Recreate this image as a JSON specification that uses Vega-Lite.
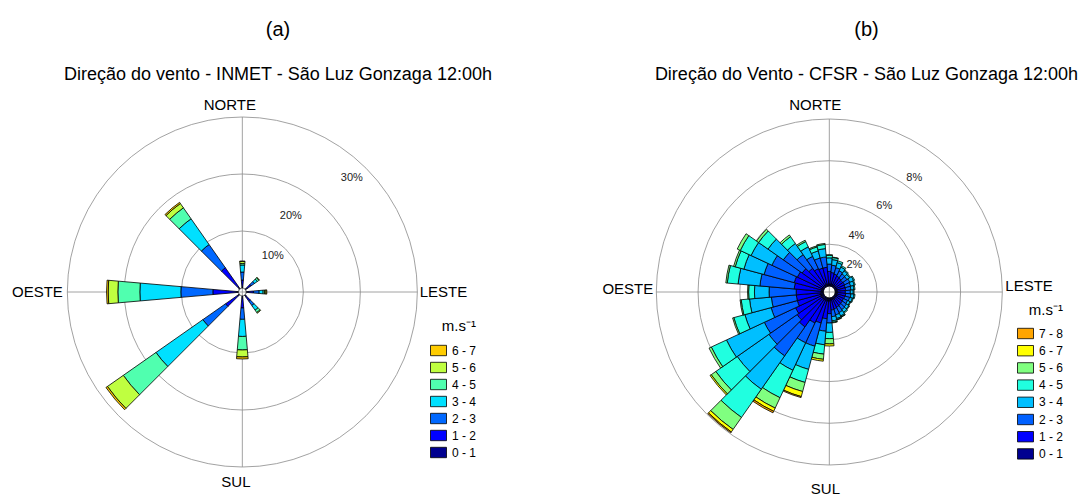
{
  "$schema": "https://vega.github.io/schema/vega-lite/v6.json",
  "padding": {"left": 9, "top": 20, "right": 0, "bottom": 0},
  "spacing": 60,
  "config": {"view": {"stroke": null}, "font": "Liberation Sans", "text": {"font": "Liberation Sans", "color": "black", "fill": "black"}},
  "resolve": {"scale": {"color": "independent", "theta": "independent", "radius": "independent", "x": "independent", "y": "independent"}, "legend": {"color": "independent"}},
  "hconcat": [
    {
      "width": 490,
      "height": 408,
      "title": {"text": "(a)", "subtitle": "Direção do vento - INMET - São Luz Gonzaga 12:00h", "fontSize": 20, "subtitleFontSize": 18, "fontWeight": "normal", "subtitlePadding": 26, "offset": 4, "dx": 24, "anchor": "middle", "color": "black", "subtitleColor": "black", "font": "Liberation Sans", "subtitleFont": "Liberation Sans"},
      "layer": [
        {
          "data": {"values": [{"ring": 10}, {"ring": 20}, {"ring": 30}]},
          "mark": {"type": "arc", "theta": 0, "theta2": 6.2832, "filled": false, "stroke": "#8a8a8a", "strokeWidth": 0.8},
          "encoding": {
            "x": {"datum": 0, "type": "quantitative", "scale": {"domain": [-40, 44], "nice": false, "zero": false}, "axis": null},
            "y": {"datum": 0, "type": "quantitative", "scale": {"domain": [-34.97, 34.97], "nice": false, "zero": false}, "axis": null},
            "radius": {"field": "ring", "type": "quantitative", "stack": null, "scale": {"type": "linear", "domain": [0, 30], "range": [4, 175], "nice": false, "zero": false}}
          }
        },
        {
          "data": {"values": [{}]},
          "mark": {"type": "rule", "color": "#8a8a8a", "strokeWidth": 0.8},
          "encoding": {"x": {"datum": -30, "type": "quantitative"}, "x2": {"datum": 30}, "y": {"datum": 0, "type": "quantitative"}}
        },
        {
          "data": {"values": [{}]},
          "mark": {"type": "rule", "color": "#8a8a8a", "strokeWidth": 0.8},
          "encoding": {"y": {"datum": -30, "type": "quantitative"}, "y2": {"datum": 30}, "x": {"datum": 0, "type": "quantitative"}}
        },
        {
          "data": {"values": [
            {"d": 0, "0 - 1": 0.18, "1 - 2": 1.22, "2 - 3": 1.4, "3 - 4": 1.24, "4 - 5": 0.26, "5 - 6": 0.35, "6 - 7": 0.09},
            {"d": 50, "0 - 1": 0.3, "1 - 2": 0.9, "2 - 3": 0.7, "3 - 4": 0.6, "4 - 5": 0.35, "5 - 6": 0.1, "6 - 7": 0},
            {"d": 90, "0 - 1": 0.25, "1 - 2": 1.0, "2 - 3": 1.0, "3 - 4": 0.7, "4 - 5": 0.25, "5 - 6": 0.25, "6 - 7": 0.15},
            {"d": 140, "0 - 1": 0.3, "1 - 2": 1.0, "2 - 3": 0.9, "3 - 4": 1.0, "4 - 5": 0.5, "5 - 6": 0.15, "6 - 7": 0},
            {"d": 180, "0 - 1": 0.4, "1 - 2": 1.7, "2 - 3": 2.0, "3 - 4": 3.0, "4 - 5": 2.37, "5 - 6": 1.23, "6 - 7": 0.35},
            {"d": 230, "0 - 1": 0.35, "1 - 2": 2.54, "2 - 3": 4.86, "3 - 4": 10.04, "4 - 5": 7.0, "5 - 6": 3.4, "6 - 7": 0.32},
            {"d": 270, "0 - 1": 0.26, "1 - 2": 4.21, "2 - 3": 5.62, "3 - 4": 7.19, "4 - 5": 3.86, "5 - 6": 1.7, "6 - 7": 0.28},
            {"d": 320, "0 - 1": 0.35, "1 - 2": 4.14, "2 - 3": 4.98, "3 - 4": 5.51, "4 - 5": 2.35, "5 - 6": 0.92, "6 - 7": 0.25}
          ]},
          "transform": [
            {"fold": ["0 - 1", "1 - 2", "2 - 3", "3 - 4", "4 - 5", "5 - 6", "6 - 7"], "as": ["c", "f"]},
            {"filter": "datum.f > 0"}
          ],
          "mark": {"type": "arc", "stroke": "black", "strokeWidth": 0.8},
          "encoding": {
            "x": {"datum": 0, "type": "quantitative"},
            "y": {"datum": 0, "type": "quantitative"},
            "theta": {"field": "d", "type": "ordinal", "scale": {"type": "band", "domain": [0,10,20,30,40,50,60,70,80,90,100,110,120,130,140,150,160,170,180,190,200,210,220,230,240,250,260,270,280,290,300,310,320,330,340,350], "range": [-0.0873, 6.1959], "paddingInner": 0, "paddingOuter": 0}},
            "radius": {"field": "f", "type": "quantitative", "stack": "zero", "scale": {"type": "linear", "domain": [0, 30], "range": [4, 175], "nice": false, "zero": false}},
            "order": {"field": "c", "sort": "ascending"},
            "color": {"field": "c", "type": "nominal",
              "scale": {"domain": ["6 - 7", "5 - 6", "4 - 5", "3 - 4", "2 - 3", "1 - 2", "0 - 1"], "range": ["#FFCC00", "#BFFF40", "#50FFAF", "#00E0FF", "#0068FF", "#0000FF", "#00008F"]},
              "legend": {"orient": "none", "legendX": 421, "legendY": 231, "title": "m.s⁻¹", "titleFontSize": 15, "titleFontWeight": "normal", "titleColor": "black", "titleAnchor": "end", "titlePadding": 8, "labelFontSize": 12, "labelColor": "black", "labelOffset": 5, "rowPadding": 1, "padding": 0, "symbolType": "M-1,-0.65H1V0.65H-1Z", "symbolSize": 256, "symbolStrokeColor": "black", "symbolStrokeWidth": 0.8, "symbolOpacity": 1}}
          }
        },
        {"data": {"values": [{}]}, "mark": {"type": "text", "text": "NORTE", "fontSize": 15, "color": "black", "align": "center", "baseline": "middle"}, "encoding": {"x": {"datum": -2.14, "type": "quantitative"}, "y": {"datum": 32.06, "type": "quantitative"}}},
        {"data": {"values": [{}]}, "mark": {"type": "text", "text": "SUL", "fontSize": 15, "color": "black", "align": "center", "baseline": "middle"}, "encoding": {"x": {"datum": -1.1, "type": "quantitative"}, "y": {"datum": -32.6, "type": "quantitative"}}},
        {"data": {"values": [{}]}, "mark": {"type": "text", "text": "OESTE", "fontSize": 15, "color": "black", "align": "right", "baseline": "middle"}, "encoding": {"x": {"datum": -30.77, "type": "quantitative"}, "y": {"datum": 0, "type": "quantitative"}}},
        {"data": {"values": [{}]}, "mark": {"type": "text", "text": "LESTE", "fontSize": 15, "color": "black", "align": "left", "baseline": "middle"}, "encoding": {"x": {"datum": 30.4, "type": "quantitative"}, "y": {"datum": 0, "type": "quantitative"}}},
        {"data": {"values": [{}]}, "mark": {"type": "text", "text": "10%", "fontSize": 11, "color": "#222222", "align": "center", "baseline": "middle"}, "encoding": {"x": {"datum": 5.23, "type": "quantitative"}, "y": {"datum": 6.17, "type": "quantitative"}}},
        {"data": {"values": [{}]}, "mark": {"type": "text", "text": "20%", "fontSize": 11, "color": "#222222", "align": "center", "baseline": "middle"}, "encoding": {"x": {"datum": 8.31, "type": "quantitative"}, "y": {"datum": 13.03, "type": "quantitative"}}},
        {"data": {"values": [{}]}, "mark": {"type": "text", "text": "30%", "fontSize": 11, "color": "#222222", "align": "center", "baseline": "middle"}, "encoding": {"x": {"datum": 18.77, "type": "quantitative"}, "y": {"datum": 19.54, "type": "quantitative"}}}
      ]
    },
    {
      "width": 519,
      "height": 408,
      "title": {"text": "(b)", "subtitle": "Direção do Vento - CFSR - São Luz Gonzaga 12:00h", "fontSize": 20, "subtitleFontSize": 18, "fontWeight": "normal", "subtitlePadding": 26, "offset": 4, "dx": 48, "anchor": "middle", "color": "black", "subtitleColor": "black", "font": "Liberation Sans", "subtitleFont": "Liberation Sans"},
      "layer": [
        {
          "data": {"values": [{"ring": 2}, {"ring": 4}, {"ring": 6}, {"ring": 8}]},
          "mark": {"type": "arc", "theta": 0, "theta2": 6.2832, "filled": false, "stroke": "#8a8a8a", "strokeWidth": 0.8},
          "encoding": {
            "x": {"datum": 0, "type": "quantitative", "scale": {"domain": [-12.5, 11.5], "nice": false, "zero": false}, "axis": null},
            "y": {"datum": 0, "type": "quantitative", "scale": {"domain": [-9.434, 9.434], "nice": false, "zero": false}, "axis": null},
            "radius": {"field": "ring", "type": "quantitative", "stack": null, "scale": {"type": "linear", "domain": [0, 8], "range": [6, 173], "nice": false, "zero": false}}
          }
        },
        {
          "data": {"values": [{}]},
          "mark": {"type": "rule", "color": "#8a8a8a", "strokeWidth": 0.8},
          "encoding": {"x": {"datum": -8, "type": "quantitative"}, "x2": {"datum": 8}, "y": {"datum": 0, "type": "quantitative"}}
        },
        {
          "data": {"values": [{}]},
          "mark": {"type": "rule", "color": "#8a8a8a", "strokeWidth": 0.8},
          "encoding": {"y": {"datum": -8, "type": "quantitative"}, "y2": {"datum": 8}, "x": {"datum": 0, "type": "quantitative"}}
        },
        {
          "data": {"values": [
            {"d": 0, "0 - 1": 0.1, "1 - 2": 0.6, "2 - 3": 0.35, "3 - 4": 0.3, "4 - 5": 0.12, "5 - 6": 0.03, "6 - 7": 0, "7 - 8": 0},
            {"d": 10, "0 - 1": 0.1, "1 - 2": 0.55, "2 - 3": 0.35, "3 - 4": 0.27, "4 - 5": 0.1, "5 - 6": 0.02, "6 - 7": 0, "7 - 8": 0},
            {"d": 20, "0 - 1": 0.1, "1 - 2": 0.5, "2 - 3": 0.32, "3 - 4": 0.25, "4 - 5": 0.09, "5 - 6": 0, "6 - 7": 0, "7 - 8": 0},
            {"d": 30, "0 - 1": 0.1, "1 - 2": 0.45, "2 - 3": 0.28, "3 - 4": 0.2, "4 - 5": 0.07, "5 - 6": 0, "6 - 7": 0, "7 - 8": 0},
            {"d": 40, "0 - 1": 0.1, "1 - 2": 0.42, "2 - 3": 0.25, "3 - 4": 0.18, "4 - 5": 0.05, "5 - 6": 0, "6 - 7": 0, "7 - 8": 0},
            {"d": 50, "0 - 1": 0.1, "1 - 2": 0.4, "2 - 3": 0.25, "3 - 4": 0.15, "4 - 5": 0.05, "5 - 6": 0, "6 - 7": 0, "7 - 8": 0},
            {"d": 60, "0 - 1": 0.1, "1 - 2": 0.42, "2 - 3": 0.28, "3 - 4": 0.2, "4 - 5": 0.05, "5 - 6": 0, "6 - 7": 0, "7 - 8": 0},
            {"d": 70, "0 - 1": 0.1, "1 - 2": 0.4, "2 - 3": 0.27, "3 - 4": 0.18, "4 - 5": 0.05, "5 - 6": 0, "6 - 7": 0, "7 - 8": 0},
            {"d": 80, "0 - 1": 0.1, "1 - 2": 0.4, "2 - 3": 0.25, "3 - 4": 0.15, "4 - 5": 0.05, "5 - 6": 0, "6 - 7": 0, "7 - 8": 0},
            {"d": 90, "0 - 1": 0.1, "1 - 2": 0.38, "2 - 3": 0.24, "3 - 4": 0.14, "4 - 5": 0.04, "5 - 6": 0, "6 - 7": 0, "7 - 8": 0},
            {"d": 100, "0 - 1": 0.1, "1 - 2": 0.4, "2 - 3": 0.25, "3 - 4": 0.15, "4 - 5": 0.05, "5 - 6": 0, "6 - 7": 0, "7 - 8": 0},
            {"d": 110, "0 - 1": 0.1, "1 - 2": 0.38, "2 - 3": 0.24, "3 - 4": 0.14, "4 - 5": 0.04, "5 - 6": 0, "6 - 7": 0, "7 - 8": 0},
            {"d": 120, "0 - 1": 0.1, "1 - 2": 0.36, "2 - 3": 0.22, "3 - 4": 0.13, "4 - 5": 0.04, "5 - 6": 0, "6 - 7": 0, "7 - 8": 0},
            {"d": 130, "0 - 1": 0.1, "1 - 2": 0.38, "2 - 3": 0.24, "3 - 4": 0.14, "4 - 5": 0.04, "5 - 6": 0, "6 - 7": 0, "7 - 8": 0},
            {"d": 140, "0 - 1": 0.1, "1 - 2": 0.4, "2 - 3": 0.25, "3 - 4": 0.15, "4 - 5": 0.05, "5 - 6": 0, "6 - 7": 0, "7 - 8": 0},
            {"d": 150, "0 - 1": 0.1, "1 - 2": 0.42, "2 - 3": 0.28, "3 - 4": 0.18, "4 - 5": 0.05, "5 - 6": 0.02, "6 - 7": 0, "7 - 8": 0},
            {"d": 160, "0 - 1": 0.1, "1 - 2": 0.45, "2 - 3": 0.3, "3 - 4": 0.18, "4 - 5": 0.05, "5 - 6": 0.02, "6 - 7": 0, "7 - 8": 0},
            {"d": 170, "0 - 1": 0.1, "1 - 2": 0.48, "2 - 3": 0.32, "3 - 4": 0.2, "4 - 5": 0.07, "5 - 6": 0.03, "6 - 7": 0, "7 - 8": 0},
            {"d": 180, "0 - 1": 0.15, "1 - 2": 0.6, "2 - 3": 0.45, "3 - 4": 0.45, "4 - 5": 0.3, "5 - 6": 0.25, "6 - 7": 0.1, "7 - 8": 0},
            {"d": 190, "0 - 1": 0.15, "1 - 2": 0.85, "2 - 3": 0.6, "3 - 4": 0.65, "4 - 5": 0.45, "5 - 6": 0.25, "6 - 7": 0.09, "7 - 8": 0},
            {"d": 200, "0 - 1": 0.15, "1 - 2": 1.1, "2 - 3": 1.15, "3 - 4": 1.15, "4 - 5": 0.65, "5 - 6": 0.45, "6 - 7": 0.25, "7 - 8": 0.05},
            {"d": 210, "0 - 1": 0.15, "1 - 2": 1.2, "2 - 3": 1.05, "3 - 4": 1.45, "4 - 5": 1.45, "5 - 6": 0.55, "6 - 7": 0.17, "7 - 8": 0.08},
            {"d": 220, "0 - 1": 0.15, "1 - 2": 1.6, "2 - 3": 1.7, "3 - 4": 1.95, "4 - 5": 1.65, "5 - 6": 0.7, "6 - 7": 0.15, "7 - 8": 0.05},
            {"d": 230, "0 - 1": 0.15, "1 - 2": 1.45, "2 - 3": 1.65, "3 - 4": 1.85, "4 - 5": 1.25, "5 - 6": 0.27, "6 - 7": 0.07, "7 - 8": 0},
            {"d": 240, "0 - 1": 0.15, "1 - 2": 1.35, "2 - 3": 1.65, "3 - 4": 2.0, "4 - 5": 0.8, "5 - 6": 0.12, "6 - 7": 0, "7 - 8": 0},
            {"d": 250, "0 - 1": 0.15, "1 - 2": 1.15, "2 - 3": 1.3, "3 - 4": 1.3, "4 - 5": 0.55, "5 - 6": 0.06, "6 - 7": 0, "7 - 8": 0},
            {"d": 260, "0 - 1": 0.15, "1 - 2": 1.15, "2 - 3": 1.2, "3 - 4": 1.05, "4 - 5": 0.4, "5 - 6": 0.05, "6 - 7": 0, "7 - 8": 0},
            {"d": 270, "0 - 1": 0.1, "1 - 2": 1.2, "2 - 3": 1.3, "3 - 4": 0.7, "4 - 5": 0.28, "5 - 6": 0.05, "6 - 7": 0, "7 - 8": 0},
            {"d": 280, "0 - 1": 0.1, "1 - 2": 1.3, "2 - 3": 1.65, "3 - 4": 1.05, "4 - 5": 0.52, "5 - 6": 0.07, "6 - 7": 0, "7 - 8": 0},
            {"d": 290, "0 - 1": 0.1, "1 - 2": 1.35, "2 - 3": 1.5, "3 - 4": 1.0, "4 - 5": 0.43, "5 - 6": 0.08, "6 - 7": 0, "7 - 8": 0},
            {"d": 300, "0 - 1": 0.1, "1 - 2": 1.3, "2 - 3": 1.35, "3 - 4": 1.1, "4 - 5": 0.57, "5 - 6": 0.16, "6 - 7": 0, "7 - 8": 0},
            {"d": 310, "0 - 1": 0.1, "1 - 2": 1.2, "2 - 3": 1.1, "3 - 4": 0.9, "4 - 5": 0.55, "5 - 6": 0.12, "6 - 7": 0, "7 - 8": 0},
            {"d": 320, "0 - 1": 0.1, "1 - 2": 1.0, "2 - 3": 0.8, "3 - 4": 0.65, "4 - 5": 0.4, "5 - 6": 0.1, "6 - 7": 0, "7 - 8": 0},
            {"d": 330, "0 - 1": 0.1, "1 - 2": 0.85, "2 - 3": 0.65, "3 - 4": 0.5, "4 - 5": 0.28, "5 - 6": 0.07, "6 - 7": 0, "7 - 8": 0},
            {"d": 340, "0 - 1": 0.1, "1 - 2": 0.8, "2 - 3": 0.5, "3 - 4": 0.35, "4 - 5": 0.2, "5 - 6": 0.05, "6 - 7": 0, "7 - 8": 0},
            {"d": 350, "0 - 1": 0.1, "1 - 2": 0.8, "2 - 3": 0.5, "3 - 4": 0.4, "4 - 5": 0.2, "5 - 6": 0.05, "6 - 7": 0, "7 - 8": 0}
          ]},
          "transform": [
            {"fold": ["0 - 1", "1 - 2", "2 - 3", "3 - 4", "4 - 5", "5 - 6", "6 - 7", "7 - 8"], "as": ["c", "f"]},
            {"filter": "datum.f > 0"}
          ],
          "mark": {"type": "arc", "stroke": "black", "strokeWidth": 0.8},
          "encoding": {
            "x": {"datum": 0, "type": "quantitative"},
            "y": {"datum": 0, "type": "quantitative"},
            "theta": {"field": "d", "type": "ordinal", "scale": {"type": "band", "domain": [0,10,20,30,40,50,60,70,80,90,100,110,120,130,140,150,160,170,180,190,200,210,220,230,240,250,260,270,280,290,300,310,320,330,340,350], "range": [-0.0873, 6.1959], "paddingInner": 0, "paddingOuter": 0}},
            "radius": {"field": "f", "type": "quantitative", "stack": "zero", "scale": {"type": "linear", "domain": [0, 8], "range": [6, 173], "nice": false, "zero": false}},
            "order": {"field": "c", "sort": "ascending"},
            "color": {"field": "c", "type": "nominal",
              "scale": {"domain": ["7 - 8", "6 - 7", "5 - 6", "4 - 5", "3 - 4", "2 - 3", "1 - 2", "0 - 1"], "range": ["#FFA500", "#FFFF00", "#80FF80", "#20FFE0", "#00BFFF", "#0060FF", "#0000FF", "#000090"]},
              "legend": {"orient": "none", "legendX": 458, "legendY": 215, "title": "m.s⁻¹", "titleFontSize": 15, "titleFontWeight": "normal", "titleColor": "black", "titleAnchor": "end", "titlePadding": 7, "labelFontSize": 12, "labelColor": "black", "labelOffset": 5, "rowPadding": 1.2, "padding": 0, "symbolType": "M-1,-0.65H1V0.65H-1Z", "symbolSize": 256, "symbolStrokeColor": "black", "symbolStrokeWidth": 0.8, "symbolOpacity": 1}}
          }
        },
        {"data": {"values": [{}]}, "mark": {"type": "text", "text": "NORTE", "fontSize": 15, "color": "black", "align": "center", "baseline": "middle"}, "encoding": {"x": {"datum": -0.65, "type": "quantitative"}, "y": {"datum": 8.65, "type": "quantitative"}}},
        {"data": {"values": [{}]}, "mark": {"type": "text", "text": "SUL", "fontSize": 15, "color": "black", "align": "center", "baseline": "middle"}, "encoding": {"x": {"datum": -0.18, "type": "quantitative"}, "y": {"datum": -9.1, "type": "quantitative"}}},
        {"data": {"values": [{}]}, "mark": {"type": "text", "text": "OESTE", "fontSize": 15, "color": "black", "align": "right", "baseline": "middle"}, "encoding": {"x": {"datum": -8.14, "type": "quantitative"}, "y": {"datum": 0.14, "type": "quantitative"}}},
        {"data": {"values": [{}]}, "mark": {"type": "text", "text": "LESTE", "fontSize": 15, "color": "black", "align": "left", "baseline": "middle"}, "encoding": {"x": {"datum": 8.14, "type": "quantitative"}, "y": {"datum": 0.28, "type": "quantitative"}}},
        {"data": {"values": [{}]}, "mark": {"type": "text", "text": "2%", "fontSize": 11, "color": "#222222", "align": "center", "baseline": "middle"}, "encoding": {"x": {"datum": 1.16, "type": "quantitative"}, "y": {"datum": 1.25, "type": "quantitative"}}},
        {"data": {"values": [{}]}, "mark": {"type": "text", "text": "4%", "fontSize": 11, "color": "#222222", "align": "center", "baseline": "middle"}, "encoding": {"x": {"datum": 1.25, "type": "quantitative"}, "y": {"datum": 2.59, "type": "quantitative"}}},
        {"data": {"values": [{}]}, "mark": {"type": "text", "text": "6%", "fontSize": 11, "color": "#222222", "align": "center", "baseline": "middle"}, "encoding": {"x": {"datum": 2.54, "type": "quantitative"}, "y": {"datum": 3.98, "type": "quantitative"}}},
        {"data": {"values": [{}]}, "mark": {"type": "text", "text": "8%", "fontSize": 11, "color": "#222222", "align": "center", "baseline": "middle"}, "encoding": {"x": {"datum": 3.93, "type": "quantitative"}, "y": {"datum": 5.27, "type": "quantitative"}}}
      ]
    }
  ]
}
